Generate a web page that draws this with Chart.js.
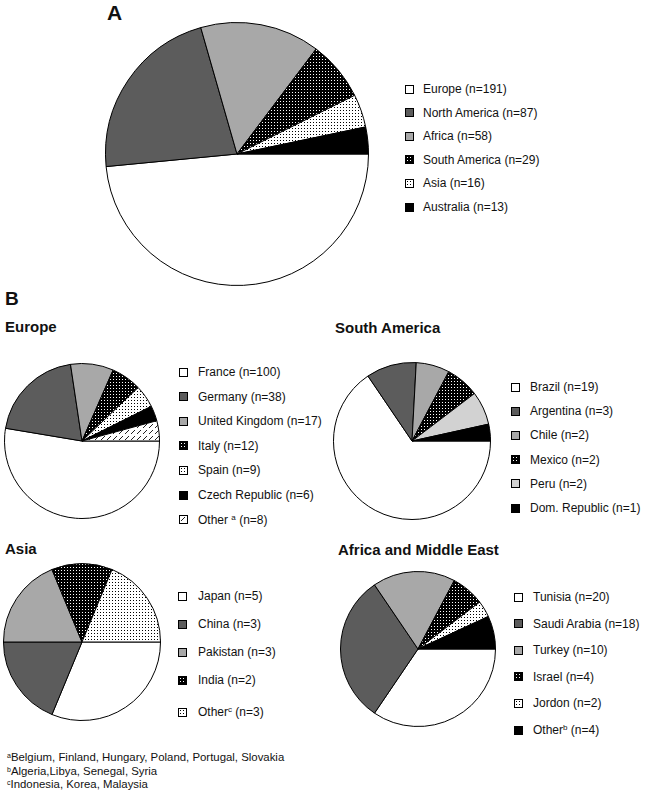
<!DOCTYPE html>
<html>
<head>
<meta charset="utf-8">
<script src="https://cdn.jsdelivr.net/npm/chart.js@4.4.1/dist/chart.umd.min.js"></script>
<style>
  body { margin: 0; background: #fff; }
  #page { position: relative; width: 647px; height: 793px; overflow: hidden;
          font-family: "Liberation Sans", Arial, sans-serif; color: #111; background: #fff; }
  .abs { position: absolute; white-space: nowrap; line-height: 1; }
  .panel-letter { font-weight: bold; }
  .panel-title { font-weight: bold; font-size: 15px; }
  .item { position: absolute; display: flex; align-items: center; height: 14px;
          font-size: 12px; line-height: 14px; white-space: nowrap; }
  .swatch { width: 9px; height: 9px; box-sizing: border-box; border: 1px solid #000; flex: none; }
  .item sup { font-size: 8px; line-height: 0; vertical-align: 4px; }
  .notes { font-size: 11.4px; line-height: 13.5px; }
  .notes sup { font-size: 7px; line-height: 0; vertical-align: 3px; }
  canvas { position: absolute; }
</style>
</head>
<body>
<div id="page">
  <div class="abs panel-letter" style="left:107px; top:2px; font-size:21px;">A</div>
  <div class="abs panel-letter" style="left:5px; top:289px; font-size:19px;">B</div>
  <div class="abs panel-title" style="left:5px; top:319px;">Europe</div>
  <div class="abs panel-title" style="left:335px; top:320px;">South America</div>
  <div class="abs panel-title" style="left:5px; top:541px;">Asia</div>
  <div class="abs panel-title" style="left:338px; top:542px;">Africa and Middle East</div>
  <div class="abs notes" style="left:7px; top:751px;">
    <div><sup>a</sup>Belgium, Finland, Hungary, Poland, Portugal, Slovakia</div>
    <div><sup>b</sup>Algeria,Libya, Senegal, Syria</div>
    <div><sup>c</sup>Indonesia, Korea, Malaysia</div>
  </div>
</div>
<script>
// --- data ---
const overviewLabels = ["Europe", "North America", "Africa", "South America", "Asia", "Australia"];
const overviewCounts = [191, 87, 58, 29, 16, 13];

const europeLabels = ["France", "Germany", "United Kingdom", "Italy", "Spain", "Czech Republic", "Other"];
const europeCounts = [100, 38, 17, 12, 9, 6, 8];
const europeNotes = ["", "", "", "", "", "", "a"];

const southAmericaLabels = ["Brazil", "Argentina", "Chile", "Mexico", "Peru", "Dom. Republic"];
const southAmericaCounts = [19, 3, 2, 2, 2, 1];

const asiaLabels = ["Japan", "China", "Pakistan", "India", "Other"];
const asiaCounts = [5, 3, 3, 2, 3];
const asiaNotes = ["", "", "", "", "c"];

const africaLabels = ["Tunisia", "Saudi Arabia", "Turkey", "Israel", "Jordon", "Other"];
const africaCounts = [20, 18, 10, 4, 2, 4];
const africaNotes = ["", "", "", "", "", "b"];

// --- fills ---
function tile(size, bg, fg, pixels) {
  const c = document.createElement("canvas");
  c.width = size;
  c.height = size;
  const g = c.getContext("2d");
  g.fillStyle = bg;
  g.fillRect(0, 0, size, size);
  g.fillStyle = fg;
  pixels.forEach(([x, y]) => g.fillRect(x, y, 1, 1));
  return c;
}

const tiles = {
  darkDots: tile(3, "#000", "#fff", [[1, 1]]),
  lightDots: tile(3, "#fff", "#000", [[1, 1]]),
  hatch: tile(6, "#fff", "#222", [[1, 4], [2, 3], [3, 2], [4, 1]])
};
const flat = {
  white: "#ffffff",
  dark: "#5c5c5c",
  light: "#a8a8a8",
  pale: "#d2d2d2",
  black: "#000000"
};

function fillFor(ctx, key) {
  return tiles[key] ? ctx.createPattern(tiles[key], "repeat") : flat[key];
}
function cssFill(key) {
  return tiles[key] ? `url(${tiles[key].toDataURL()})` : flat[key];
}

const page = document.getElementById("page");

function drawPie(cfg) {
  const size = cfg.r * 2 + 2;
  const canvas = document.createElement("canvas");
  canvas.width = size;
  canvas.height = size;
  canvas.style.left = (cfg.cx - cfg.r - 1) + "px";
  canvas.style.top = (cfg.cy - cfg.r - 1) + "px";
  page.appendChild(canvas);
  const ctx = canvas.getContext("2d");

  new Chart(canvas, {
    type: "pie",
    data: {
      labels: cfg.labels,
      datasets: [{
        data: cfg.counts,
        backgroundColor: cfg.fills.map(k => fillFor(ctx, k)),
        borderColor: "#000",
        borderWidth: 1
      }]
    },
    options: {
      responsive: false,
      animation: false,
      rotation: 90,
      layout: { padding: 0 },
      plugins: {
        legend: { display: false },
        tooltip: { enabled: false }
      }
    }
  });

  // legend
  let extra = 0;
  cfg.labels.forEach((label, i) => {
    const note = cfg.notes ? cfg.notes[i] : "";
    if (note && cfg.noteGap) extra += cfg.noteGap;
    const item = document.createElement("div");
    item.className = "item";
    item.style.left = cfg.boxLeft + "px";
    item.style.top = (cfg.legendTop + i * cfg.step + extra - 7) + "px";

    const sw = document.createElement("span");
    sw.className = "swatch";
    sw.style.background = cssFill(cfg.fills[i]);
    sw.style.marginRight = (cfg.textLeft - cfg.boxLeft - 9) + "px";
    item.appendChild(sw);

    const text = document.createElement("span");
    const lead = note ? (cfg.noteSpace ? label + " " : label) : label;
    text.appendChild(document.createTextNode(lead));
    if (note) {
      const sup = document.createElement("sup");
      sup.textContent = note;
      text.appendChild(sup);
    }
    text.appendChild(document.createTextNode(` (n=${cfg.counts[i]})`));
    item.appendChild(text);
    page.appendChild(item);
  });
}

drawPie({
  labels: overviewLabels, counts: overviewCounts,
  fills: ["white", "dark", "light", "darkDots", "lightDots", "black"],
  cx: 237, cy: 154, r: 131,
  boxLeft: 405, textLeft: 423, legendTop: 89, step: 23.6
});

drawPie({
  labels: europeLabels, counts: europeCounts, notes: europeNotes, noteSpace: true,
  fills: ["white", "dark", "light", "darkDots", "lightDots", "black", "hatch"],
  cx: 82, cy: 441, r: 77,
  boxLeft: 179, textLeft: 198, legendTop: 372, step: 24.6
});

drawPie({
  labels: southAmericaLabels, counts: southAmericaCounts,
  fills: ["white", "dark", "light", "darkDots", "pale", "black"],
  cx: 412, cy: 441, r: 78,
  boxLeft: 511, textLeft: 530, legendTop: 387, step: 24.2
});

drawPie({
  labels: asiaLabels, counts: asiaCounts, notes: asiaNotes, noteGap: 4,
  fills: ["white", "dark", "light", "darkDots", "lightDots"],
  cx: 82, cy: 642, r: 78,
  boxLeft: 178, textLeft: 198, legendTop: 596, step: 28
});

drawPie({
  labels: africaLabels, counts: africaCounts, notes: africaNotes,
  fills: ["white", "dark", "light", "darkDots", "lightDots", "black"],
  cx: 418, cy: 649, r: 77,
  boxLeft: 514, textLeft: 533, legendTop: 597, step: 26.6
});
</script>
</body>
</html>
